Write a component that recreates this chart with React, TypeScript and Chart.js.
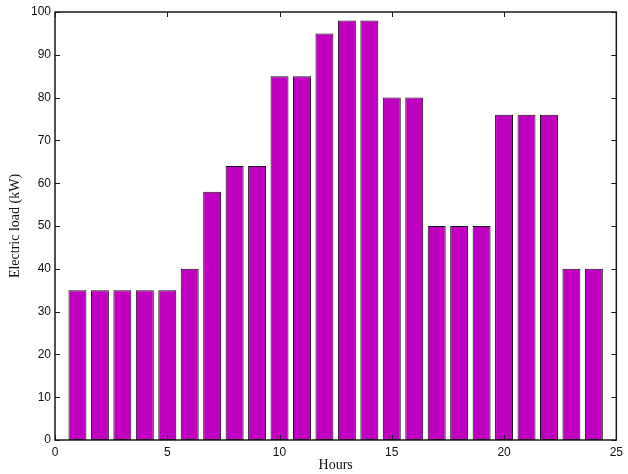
import React, { useEffect, useRef } from "react";
import { Chart, registerables } from "chart.js";

Chart.register(...registerables);

const hours = [1, 2, 3, 4, 5, 6, 7, 8, 9, 10, 11, 12, 13, 14, 15, 16, 17, 18, 19, 20, 21, 22, 23, 24];
const loads = [35, 35, 35, 35, 35, 40, 58, 64, 64, 85, 85, 95, 98, 98, 80, 80, 50, 50, 50, 76, 76, 76, 40, 40];
const xTicks = [0, 5, 10, 15, 20, 25];
const yTicks = [0, 10, 20, 30, 40, 50, 60, 70, 80, 90, 100];

const frame = {
  id: "frame",
  afterDraw(chart: any) {
    const { ctx, chartArea } = chart;
    const { left, right, top, bottom } = chartArea;
    const xs = chart.scales.x;
    const ys = chart.scales.y;
    ctx.save();
    ctx.strokeStyle = "#1a1a1a";
    ctx.lineWidth = 1;
    const L = 5;
    ctx.beginPath();
    for (const v of xTicks) {
      const px = Math.round(xs.getPixelForValue(v)) + 0.5;
      ctx.moveTo(px, bottom);
      ctx.lineTo(px, bottom - L);
      ctx.moveTo(px, top);
      ctx.lineTo(px, top + L);
    }
    for (const v of yTicks) {
      const py = Math.round(ys.getPixelForValue(v)) + 0.5;
      ctx.moveTo(left, py);
      ctx.lineTo(left + L, py);
      ctx.moveTo(right, py);
      ctx.lineTo(right - L, py);
    }
    ctx.stroke();
    ctx.lineWidth = 1.5;
    ctx.strokeRect(left, top, right - left, bottom - top);
    ctx.restore();
  },
};

export default function App() {
  const ref = useRef<HTMLCanvasElement>(null);
  useEffect(() => {
    document.body.style.margin = "0";
    const chart = new Chart(ref.current!, {
      type: "bar",
      data: {
        datasets: [
          {
            data: hours.map((h, i) => ({ x: h, y: loads[i] })),
            backgroundColor: "#bf00bf",
            borderColor: "#111111",
            borderWidth: 1,
            borderSkipped: false,
            barPercentage: 0.8,
            categoryPercentage: 1,
          },
        ],
      },
      options: {
        animation: false,
        responsive: false,
        layout: { padding: { top: 12, right: 8, left: 0, bottom: 0 } },
        plugins: { legend: { display: false }, tooltip: { enabled: false } },
        scales: {
          x: {
            type: "linear",
            min: 0,
            max: 25,
            offset: false,
            grid: { display: false, drawTicks: false },
            border: { display: false },
            ticks: {
              stepSize: 5,
              padding: 5,
              color: "#111",
              font: { family: "'Liberation Sans', Arial, sans-serif", size: 12 },
              maxRotation: 0,
            },
            title: {
              display: true,
              text: "Hours",
              color: "#111",
              padding: { top: 1, bottom: 0 },
              font: { family: "'Liberation Serif', 'Times New Roman', serif", size: 14 },
            },
            afterFit(scale: any) {
              scale.height = 34;
            },
          },
          y: {
            min: 0,
            max: 100,
            grid: { display: false, drawTicks: false },
            border: { display: false },
            ticks: {
              stepSize: 10,
              padding: 4,
              color: "#111",
              font: { family: "'Liberation Sans', Arial, sans-serif", size: 12 },
            },
            title: {
              display: true,
              text: "Electric load (kW)",
              color: "#111",
              padding: { top: 7, bottom: 0 },
              font: { family: "'Liberation Serif', 'Times New Roman', serif", size: 14 },
            },
            afterFit(scale: any) {
              scale.width = 55;
            },
          },
        },
      },
      plugins: [frame],
    });
    return () => chart.destroy();
  }, []);
  return <canvas ref={ref} width={628} height={474} style={{ display: "block" }} />;
}
